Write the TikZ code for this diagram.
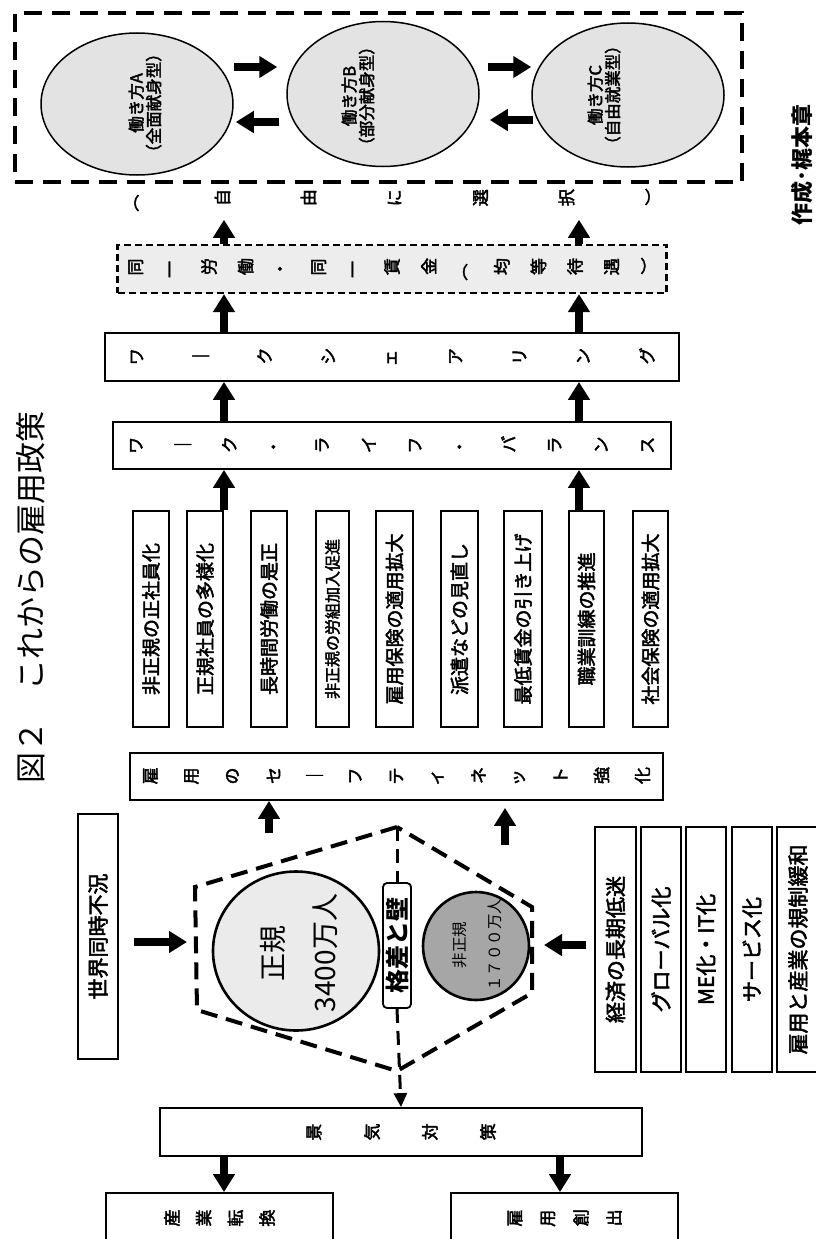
\documentclass[tikz,border=0pt]{standalone}
\usepackage{fontspec}
\setmainfont{Noto Sans CJK JP}
\newfontfamily\mdf[FakeBold=2.5]{Noto Sans CJK JP}
\usepackage{graphicx}
\usetikzlibrary{arrows.meta,shapes.geometric}

\newlength\chw
\def\tvloop#1{\ifx#1\relax\else\makebox[\chw]{\rotatebox[origin=c]{90}{#1}}\expandafter\tvloop\fi}
\newcommand\tate[2]{\setlength\chw{#1}\tvloop#2\relax}

\begin{document}
\begin{tikzpicture}[x=1pt,y=-1pt,
  box/.style={draw, line width=1.8pt, inner sep=0pt, fill=white},
  bigarrow/.style={line width=8pt, -{Triangle[width=21pt,length=18pt]}},
  wsell/.style={draw, ellipse, line width=1.5pt, fill=black!11, inner sep=0pt},
  tt/.style={font=\fontsize{17}{17}\selectfont\mdf},
  bt/.style={font=\fontsize{19}{19}\selectfont\mdf},
  rt/.style={font=\fontsize{21}{21}\selectfont\mdf},
  et/.style={rotate=90, align=center, font=\fontsize{16.5}{17.5}\selectfont\mdf},
  hexline/.style={line width=4pt, dash pattern=on 17pt off 9pt},
  midline/.style={line width=3pt, dash pattern=on 14pt off 8pt}
]
\fill[white] (0,0) rectangle (815,1239);
\useasboundingbox (0,0) rectangle (815,1239);

% title and credit
\node[rotate=90, font=\fontsize{31}{31}\selectfont] (title) at (31,597) {図２　これからの雇用政策};
\node[rotate=90, font=\fontsize{22}{22}\selectfont\bfseries] (credit) at (802,165) {作成･梶本章};

% outer dashed frame with working styles
\node[draw, line width=4.5pt, dash pattern=on 18pt off 10pt, minimum width=727pt, minimum height=169pt, inner sep=0pt] (outer) at (378.5,97.5) {};
\node[wsell, minimum width=192pt, minimum height=142pt] (wa) at (137,104) {};
\node[wsell, minimum width=192pt, minimum height=145pt] (wb) at (383,94) {};
\node[wsell, minimum width=192pt, minimum height=144pt] (wc) at (628,95) {};
\node[et] (wat) at (145,103) {働き方A\\（全面献身型）};
\node[et] (wbt) at (358,96) {働き方B\\（部分献身型）};
\node[et] (wct) at (604,95) {働き方C\\（自由就業型）};
\draw[bigarrow] ([yshift=37pt]wa.east) -- ([xshift=-9pt,yshift=27pt]wb.west);
\draw[bigarrow] ([xshift=-7pt,yshift=-28pt]wb.west) -- ([xshift=2pt,yshift=-18pt]wa.east);
\draw[bigarrow] ([xshift=8pt,yshift=27pt]wb.east) -- ([yshift=28pt]wc.west);
\draw[bigarrow] ([xshift=2pt,yshift=-25pt]wc.west) -- ([xshift=10pt,yshift=-26pt]wb.east);

% vertical rows
\node[tt, minimum height=20pt, inner sep=0pt] (jiyu) at (394.5,200) {\tate{86pt}{︵自由に選択︶}};
\node[box, dash pattern=on 7pt off 4pt, line width=2.2pt, fill=black!7, minimum width=536pt, minimum height=48pt, tt] (dou) at (392,269) {\tate{36.6pt}{同一労働・同一賃金︵均等待遇︶}};
\node[box, minimum width=536pt, minimum height=48pt, tt] (ws) at (392,357) {\tate{63.75pt}{ワ｜クシェアリング}};
\node[box, minimum width=536pt, minimum height=47pt, tt] (wl) at (392,445.5) {\tate{46.5pt}{ワ｜ク・ライフ・バランス}};

% policy boxes
\node[box, minimum width=36pt, minimum height=216pt, bt] (p1) at (151,619) {\rotatebox{90}{非正規の正社員化}};
\node[box, minimum width=36pt, minimum height=216pt, bt] (p2) at (205,619) {\rotatebox{90}{正規社員の多様化}};
\node[box, minimum width=36pt, minimum height=216pt, bt] (p3) at (269,619) {\rotatebox{90}{長時間労働の是正}};
\node[box, minimum width=33pt, minimum height=216pt, font=\fontsize{16}{16}\selectfont\mdf] (p4) at (332.5,619) {\rotatebox{90}{非正規の労組加入促進}};
\node[box, minimum width=37pt, minimum height=216pt, bt] (p5) at (394.5,619) {\rotatebox{90}{雇用保険の適用拡大}};
\node[box, minimum width=37pt, minimum height=216pt, bt] (p6) at (459.5,619) {\rotatebox{90}{派遣などの見直し}};
\node[box, minimum width=38pt, minimum height=216pt, bt] (p7) at (523,619) {\rotatebox{90}{最低賃金の引き上げ}};
\node[box, minimum width=35pt, minimum height=216pt, bt] (p8) at (586.5,619) {\rotatebox{90}{職業訓練の推進}};
\node[box, minimum width=35pt, minimum height=216pt, bt] (p9) at (650.5,619) {\rotatebox{90}{社会保険の適用拡大}};

\node[box, minimum width=527pt, minimum height=47pt, tt] (sn) at (396.5,776.5) {\tate{41pt}{雇用のセ｜フティネット強化}};

\coordinate (xL) at (224,0);
\coordinate (xR) at (579,0);
\coordinate (xS) at (560,0);
\draw[bigarrow, shorten >=8pt] (dou.north -| xL) -- (jiyu.south -| xL);
\draw[bigarrow, shorten >=8pt] (dou.north -| xR) -- (jiyu.south -| xR);
\draw[bigarrow] (ws.north -| xL) -- (dou.south -| xL);
\draw[bigarrow] (ws.north -| xR) -- (dou.south -| xR);
\draw[bigarrow] (wl.north -| xL) -- (ws.south -| xL);
\draw[bigarrow] (wl.north -| xR) -- (ws.south -| xR);
\draw[bigarrow] (p2.north -| xL) -- (wl.south -| xL);
\draw[bigarrow] (p8.north -| xR) -- (wl.south -| xR);

% hexagon
\draw[hexline] (397,827) coordinate (hT) -- (195,887) -- (197,1010) -- (397,1071) coordinate (hB) -- (532,993) -- (532,907) -- cycle;
\node[draw, ellipse, line width=2.6pt, fill=black!8, minimum width=166pt, minimum height=159pt, inner sep=0pt] (seiki) at (296,951) {};
\node[rotate=90, align=center, font=\fontsize{28}{52}\selectfont] (seikit) at (299,953) {正規\\3400万人};
\node[draw, ellipse, line width=2.6pt, fill=black!35, minimum width=106pt, minimum height=108pt, inner sep=0pt] (hisei) at (476,946) {};
\node[rotate=90, align=center, font=\fontsize{15.5}{35}\selectfont] (hiseit) at (477,945) {非正規\\１７００万人};
\node[draw, rounded corners=4pt, line width=1.8pt, fill=white, minimum width=28pt, minimum height=125pt, inner sep=0pt, font=\fontsize{24}{24}\selectfont\bfseries] (kakusa) at (397,945.5) {\rotatebox{90}{格差と壁}};

% side inputs
\node[box, minimum width=40pt, minimum height=245pt, rt] (sekai) at (98,936.5) {\rotatebox{90}{世界同時不況}};
\node[box, minimum width=41pt, minimum height=245pt, rt] (r1) at (615.5,949.5) {\rotatebox{90}{経済の長期低迷}};
\node[box, minimum width=40pt, minimum height=245pt, rt] (r2) at (661,949.5) {\rotatebox{90}{グローバル化}};
\node[box, minimum width=40pt, minimum height=245pt, rt] (r3) at (706,949.5) {\rotatebox{90}{ME化・IT化}};
\node[box, minimum width=40pt, minimum height=245pt, rt] (r4) at (752,949.5) {\rotatebox{90}{サービス化}};
\node[box, minimum width=42pt, minimum height=245pt, rt] (r5) at (798,949.5) {\rotatebox{90}{雇用と産業の規制緩和}};

\coordinate (hexW) at (187,942);
\coordinate (hexE) at (544,945);
\draw[bigarrow] ([xshift=15pt,yshift=-5.5pt]sekai.east) -- (hexW);
\draw[bigarrow] ([xshift=-8pt,yshift=4.5pt]r1.west) -- (hexE);
\coordinate (h1) at (269,833);
\coordinate (h2) at (505,845);
\draw[bigarrow] (h1) -- (sn.south -| h1);
\draw[bigarrow, shorten >=7pt] (h2) -- (sn.south -| h2);

% bottom
\node[box, minimum width=482pt, minimum height=48pt, tt] (kk) at (401,1132) {\tate{58pt}{景気対策}};
\node[box, minimum width=227pt, minimum height=50pt, tt] (sg) at (219.5,1218) {\tate{31.7pt}{産業転換}};
\node[box, minimum width=227pt, minimum height=50pt, tt] (ks) at (564.5,1218) {\tate{33pt}{雇用創出}};
\draw[midline] (hT) -- (kakusa.north);
\draw[midline, -{Triangle[width=13pt,length=14pt]}] (kakusa.south) -- (kk.north);
\draw[bigarrow] (kk.south -| xL) -- (sg.north -| xL);
\draw[bigarrow] (kk.south -| xS) -- (ks.north -| xS);
\end{tikzpicture}
\end{document}
